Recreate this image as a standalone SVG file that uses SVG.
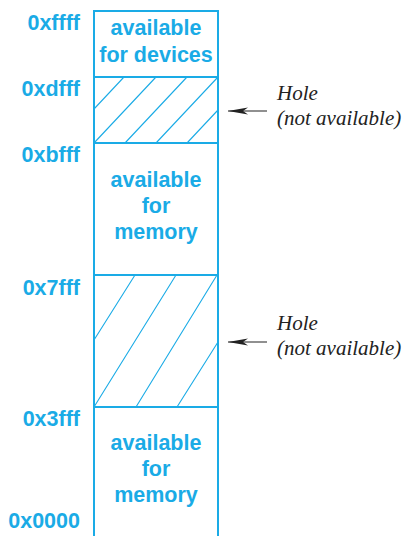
<svg xmlns="http://www.w3.org/2000/svg" width="404" height="536" viewBox="0 0 404 536">
<defs>
<style>
.box{fill:none;stroke:#1aabe6;stroke-width:2}
.hatch{stroke:#1aabe6;stroke-width:1.1;fill:none}
.addr{font-family:"Liberation Sans",Arial,sans-serif;font-weight:bold;font-size:21.5px;fill:#1aabe6;text-anchor:end}
.lbl{font-family:"Liberation Sans",Arial,sans-serif;font-weight:bold;font-size:21.5px;fill:#1aabe6;text-anchor:middle}
.note{font-family:"Liberation Serif","Times New Roman",serif;font-style:italic;font-size:21px;fill:#222}
.arr{stroke:#222;stroke-width:1.2;fill:none}
</style>
<marker id="ah" markerWidth="22" markerHeight="10" refX="20" refY="5" orient="auto" markerUnits="userSpaceOnUse">
<path d="M20,5 L0,1.5 L5,5 L0,8.5 Z" fill="#222"/>
</marker>
</defs>
<g id="memory-map">
<g id="region-devices">
<path class="box" d="M94,11 H218 V77 H94 Z"/>
<text class="lbl" x="156" y="35">available</text>
<text class="lbl" x="156" y="62">for devices</text>
</g>
<g id="hole-1">
<rect class="box" x="94" y="77" width="124" height="66"/>
<path class="hatch" d="M124,77 L94,109 M156,77 L94,143 M187,77 L125,143 M218,77 L156,143 M218,110 L187,143"/>
</g>
<g id="region-memory-high">
<rect class="box" x="94" y="143" width="124" height="132"/>
<text class="lbl" x="156" y="187">available</text>
<text class="lbl" x="156" y="213">for</text>
<text class="lbl" x="156" y="239">memory</text>
</g>
<g id="hole-2">
<rect class="box" x="94" y="275" width="124" height="132"/>
<path class="hatch" d="M135,275 L94,340 M176,275 L94,407 M217,275 L136,407 M218,342 L177,407"/>
</g>
<g id="region-memory-low">
<path class="box" d="M94,536 V407 H218 V536"/>
<text class="lbl" x="156" y="450">available</text>
<text class="lbl" x="156" y="476">for</text>
<text class="lbl" x="156" y="502">memory</text>
</g>
</g>
<g id="addresses">
<text class="addr" x="80" y="30">0xffff</text>
<text class="addr" x="80" y="96">0xdfff</text>
<text class="addr" x="80" y="162">0xbfff</text>
<text class="addr" x="80" y="295">0x7fff</text>
<text class="addr" x="80" y="426">0x3fff</text>
<text class="addr" x="80" y="528">0x0000</text>
</g>
<g id="notes">
<text class="note" x="277" y="100">Hole</text>
<text class="note" x="277" y="125">(not available)</text>
<text class="note" x="277" y="330">Hole</text>
<text class="note" x="277" y="355">(not available)</text>
</g>
<g id="connectors">
<path class="arr" d="M267,111 H228" marker-end="url(#ah)"/>
<path class="arr" d="M267,342 H228" marker-end="url(#ah)"/>
</g>
</svg>
